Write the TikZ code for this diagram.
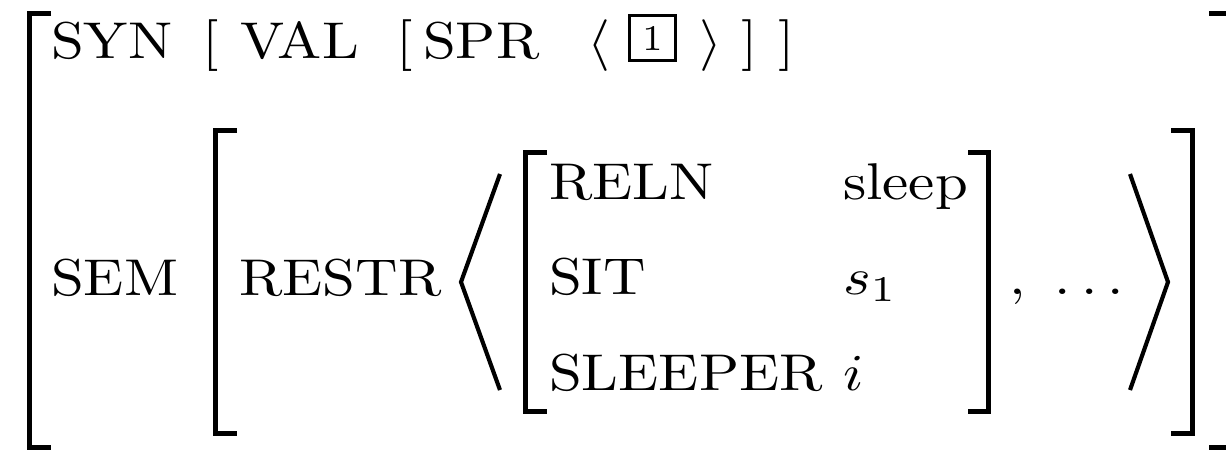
\documentclass[tikz,border=0pt]{standalone}
\begin{document}
        \begin{tikzpicture}[x=0.1934pt, y=-0.1934pt,
            lbl/.style={anchor=base west, inner sep=0pt, xscale=1.14},
            brk/.style={line width=0.97pt},
            ang/.style={line width=0.8pt}]
            \useasboundingbox (0,0) rectangle (1226,450);
            % first row: SYN
            \node[lbl] (syn) at (50,58) {SYN};
            \node[lbl] (synl) at (201,58) {[};
            \node[lbl] (val) at (239,58) {VAL};
            \node[lbl] (vall) at (395,58) {[};
            \node[lbl] (spr) at (422,58) {SPR};
            \node[lbl] (sprl) at (586,58) {$\langle$};
            \node[draw, line width=0.5pt, minimum width=9pt, minimum height=8.8pt, inner sep=0pt, font=\scriptsize] (tag) at (652.5,38) {1};
            \node[lbl] (sprr) at (698,58) {$\rangle$};
            \node[lbl] (valr) at (740,58) {]};
            \node[lbl] (synr) at (777,58) {]};
            % second row: SEM
            \node[lbl] (sem) at (50,295) {SEM};
            \node[lbl] (restr) at (238,295) {RESTR};
            \node[lbl] (reln) at (548,199) {RELN};
            \node[lbl] (sit) at (548,294) {SIT};
            \node[lbl] (sleeper) at (548,390) {SLEEPER};
            \node[lbl] (sleep) at (842,199) {sleep};
            \node[lbl] (s1) at (842,294) {$s_1$};
            \node[lbl] (idx) at (842,390) {$i$};
            \node[lbl] (more) at (1008,294) {$,\ \ldots$};
            % brackets
            \draw[brk] (51,13.5) -- (29.5,13.5) -- (29.5,447.5) -- (51,447.5);
            \draw[brk] (1209,13.5) -- (1231,13.5) -- (1231,447.5) -- (1209,447.5);
            \draw[brk] (237,130) -- (215.5,130) -- (215.5,433.5) -- (237,433.5);
            \draw[brk] (1171,130) -- (1192,130) -- (1192,433.5) -- (1171,433.5);
            \draw[brk] (547,152) -- (525.5,152) -- (525.5,411.5) -- (547,411.5);
            \draw[brk] (968,152) -- (988.5,152) -- (988.5,411.5) -- (968,411.5);
            \draw[ang] (500,174) -- (461,282) -- (500,390);
            \draw[ang] (1130,174) -- (1168,282) -- (1130,390);
        \end{tikzpicture}
\end{document}
